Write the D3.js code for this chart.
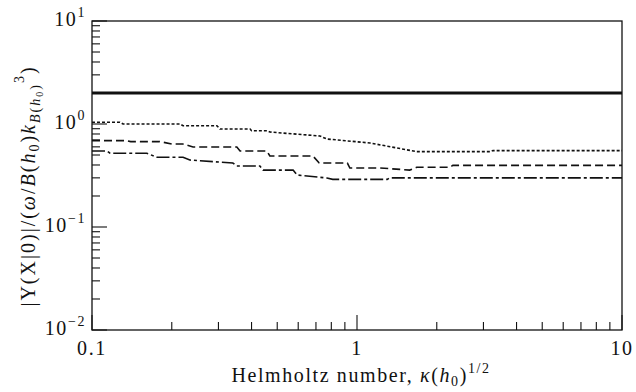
<!DOCTYPE html>
<html><head><meta charset="utf-8">
<script src="https://cdn.jsdelivr.net/npm/d3@7"></script>
<style>body{margin:0;background:#fff}svg{display:block}</style>
</head><body><svg id="c" width="636" height="392"></svg>
<script>
const solid = [[0.1,2.0],[10,2.0]];
const dotted = [[0.1,1.04],[0.1275,1.04],[0.131,1.0],[0.215,1.0],[0.2206,0.963],[0.296,0.963],[0.304,0.894],[0.395,0.894],[0.40,0.861],[0.457,0.861],[0.469,0.836],[0.724,0.765],[0.77,0.715],[1.12,0.654],[1.68,0.539],[3.18,0.539],[3.26,0.552],[10,0.552]];
const dashed = [[0.1,0.689],[0.1355,0.689],[0.14,0.675],[0.18,0.675],[0.2,0.64],[0.22,0.64],[0.2406,0.598],[0.352,0.598],[0.362,0.547],[0.457,0.547],[0.469,0.489],[0.682,0.489],[0.72,0.418],[0.92,0.418],[0.94,0.374],[1.22,0.374],[1.58,0.357],[1.68,0.38],[2.24,0.38],[2.3,0.397],[10,0.397]];
const dashdot = [[0.1,0.547],[0.114,0.547],[0.117,0.52],[0.161,0.52],[0.176,0.475],[0.2206,0.475],[0.234,0.447],[0.34,0.418],[0.352,0.391],[0.43,0.391],[0.442,0.357],[0.574,0.357],[0.594,0.32],[0.77,0.299],[0.81,0.29],[1.30,0.29],[1.33,0.30],[10,0.30]];
const xTicks = [0.1,1,10];
const xTickLabels = ["0.1","1","10"];
const yTicks = [10,1,0.1,0.01];
const yTickExp = ["1","0","\u22121","\u22122"];

const FONT = "'Liberation Serif', 'DejaVu Serif', serif";
const svg = d3.select("#c").attr("font-family",FONT).style("font-family",FONT);
const L=92,R=622,T=21,B=330;
const x = d3.scaleLog().domain([0.1,10]).range([L,R]);
const y = d3.scaleLog().domain([0.01,10]).range([B,T]);
const minors = (lo,hi)=>{const a=[];for(let d=lo;d<hi;d*=10)for(let k=2;k<=9;k++)a.push(d*k);return a;};

svg.append("rect").attr("x",L).attr("y",T).attr("width",R-L).attr("height",B-T).attr("fill","none").attr("stroke","#111").attr("stroke-width",1.3);

const g = svg.append("g").attr("stroke","#111").attr("stroke-width",1.1);
xTicks.forEach(v=>g.append("line").attr("x1",x(v)).attr("x2",x(v)).attr("y1",B).attr("y2",B-15));
minors(0.1,10).forEach(v=>g.append("line").attr("x1",x(v)).attr("x2",x(v)).attr("y1",B).attr("y2",B-8));
yTicks.forEach(v=>g.append("line").attr("y1",y(v)).attr("y2",y(v)).attr("x1",L).attr("x2",L+15));
minors(0.01,10).forEach(v=>g.append("line").attr("y1",y(v)).attr("y2",y(v)).attr("x1",L).attr("x2",L+8));

const FS = 20, LS = 1.6;
xTicks.forEach((v,i)=>svg.append("text").attr("x",x(v)).attr("y",355).attr("text-anchor","middle").attr("font-size",FS).attr("letter-spacing",LS).attr("fill","#111").text(xTickLabels[i]));
yTicks.forEach((v,i)=>{
  const t=svg.append("text").attr("x",L-6).attr("y",y(v)+5).attr("text-anchor","end").attr("font-size",FS).attr("letter-spacing",LS).attr("fill","#111");
  t.append("tspan").text("10");
  t.append("tspan").attr("font-size",14).attr("dy",-9).text(yTickExp[i]);
});

const line = d3.line().x(d=>x(d[0])).y(d=>y(d[1]));
const plot = svg.append("g").attr("fill","none").attr("stroke","#111");
plot.append("path").datum(solid).attr("d",line).attr("stroke-width",2.8);
plot.append("path").datum(dotted).attr("d",line).attr("stroke-width",1.6).attr("stroke-dasharray","3,2");
plot.append("path").datum(dashed).attr("d",line).attr("stroke-width",1.6).attr("stroke-dasharray","8,4");
plot.append("path").datum(dashdot).attr("d",line).attr("stroke-width",1.6).attr("stroke-dasharray","13,3,3,3");

const xl = svg.append("text").attr("x",361).attr("y",382).attr("text-anchor","middle").attr("font-size",FS).attr("letter-spacing",LS).attr("fill","#111");
xl.append("tspan").text("Helmholtz number, ");
xl.append("tspan").attr("font-style","italic").text("\u03BA");
xl.append("tspan").text("(");
xl.append("tspan").attr("font-style","italic").text("h");
xl.append("tspan").attr("font-size",14).attr("dy",4).text("0");
xl.append("tspan").attr("dy",-4).text(")");
xl.append("tspan").attr("font-size",14).attr("dy",-9).text("1/2");

const yl = svg.append("text").attr("transform","translate(35,186) rotate(-90)").attr("text-anchor","middle").attr("font-size",FS).attr("letter-spacing",2.0).attr("fill","#111");
yl.append("tspan").text("|Y(X|0)|/(");
yl.append("tspan").attr("font-style","italic").text("\u03C9");
yl.append("tspan").text("/");
yl.append("tspan").attr("font-style","italic").text("B");
yl.append("tspan").text("(");
yl.append("tspan").attr("font-style","italic").text("h");
yl.append("tspan").attr("font-size",14).attr("dy",4).text("0");
yl.append("tspan").attr("dy",-4).text(")");
yl.append("tspan").attr("font-style","italic").text("k");
yl.append("tspan").attr("font-size",14).attr("font-style","italic").attr("dy",5).text("B");
yl.append("tspan").attr("font-size",14).text("(");
yl.append("tspan").attr("font-size",14).attr("font-style","italic").text("h");
yl.append("tspan").attr("font-size",10).attr("dy",3).text("0");
yl.append("tspan").attr("font-size",14).attr("dy",-3).text(")");
yl.append("tspan").attr("font-size",14).attr("dy",-16).text("3");
yl.append("tspan").attr("dy",11).text(")");
</script></body></html>
